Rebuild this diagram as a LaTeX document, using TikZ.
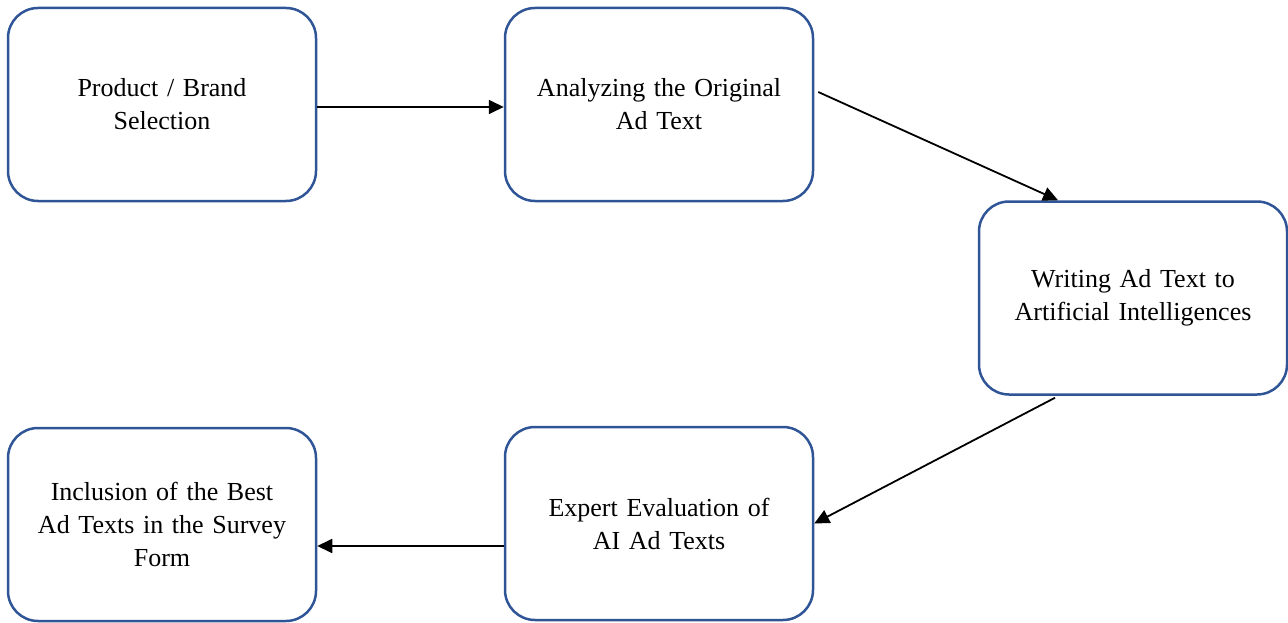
\documentclass[tikz,border=0pt]{standalone}
\usepackage{fontspec}
\setmainfont{Liberation Serif}
\usetikzlibrary{arrows.meta}
\definecolor{boxblue}{HTML}{2F5597}
\tikzset{
  stepbox/.style={draw=boxblue, line width=2.5pt, rounded corners=30pt,
    minimum width=308pt, minimum height=193pt, inner sep=0pt,
    align=center, font=\fontsize{26pt}{33pt}\selectfont, text width=300pt},
  arr/.style={line width=1.8pt, -{Triangle[length=15pt,width=14pt]}}
}
\begin{document}
\begin{tikzpicture}[x=1pt,y=-1pt]
  \useasboundingbox (0,0) rectangle (1288,623);
  \node[stepbox] (b1) at (162,104.5) {Product / Brand\\Selection};
  \node[stepbox] (b2) at (659,104.5) {Analyzing the Original\\Ad Text};
  \node[stepbox] (b3) at (1133,298) {Writing Ad Text to\\Artificial Intelligences};
  \node[stepbox] (b4) at (659,523.5) {Expert Evaluation of\\AI Ad Texts};
  \node[stepbox] (b5) at (162,524.5) {Inclusion of the Best\\Ad Texts in the Survey\\Form};
  \draw[arr] ([yshift=-2.5pt]b1.east) -- ([yshift=-2.5pt]b2.west);
  \draw[arr] ([xshift=4pt,yshift=12.5pt]b2.east) -- ([xshift=-75pt]b3.north);
  \draw[arr] ([xshift=-78pt,yshift=-2pt]b3.south) -- (b4.east);
  \draw[arr] ([yshift=-22.5pt]b4.west) -- ([yshift=-21.5pt]b5.east);
\end{tikzpicture}
\end{document}
